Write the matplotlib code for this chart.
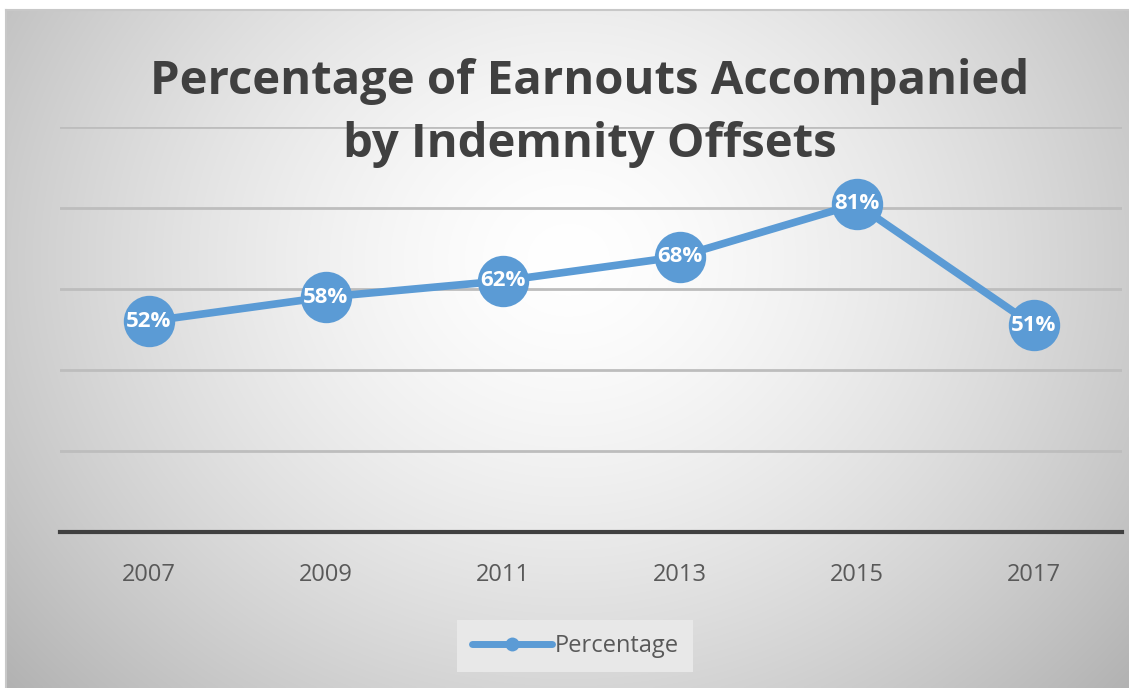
import numpy as np
import matplotlib
matplotlib.use("Agg")
import matplotlib.pyplot as plt
from matplotlib.lines import Line2D

years = ["2007", "2009", "2011", "2013", "2015", "2017"]
percentage = [52, 58, 62, 68, 81, 51]
title = "Percentage of Earnouts Accompanied\nby Indemnity Offsets"
series_name = "Percentage"

W, H = 1129, 688
fig = plt.figure(figsize=(W / 100, H / 100), dpi=100)
fig.patch.set_facecolor("white")

# radial gradient background panel
bg = fig.add_axes([6 / W, 0, 1 - 6 / W, 1 - 10 / H])
bg.set_axis_off()
yy, xx = np.mgrid[0:300, 0:500]
cx, cy = 250, 110
r = np.sqrt(((xx - cx) / 300.0) ** 2 + ((yy - cy) / 260.0) ** 2)
v = 1.0 - 0.26 * np.clip(r, 0, 1.2) ** 1.5
img = np.dstack([v, v, v])
bg.imshow(img, aspect="auto", extent=[0, 1, 0, 1], origin="upper", interpolation="bilinear")
bg.set_xlim(0, 1)
bg.set_ylim(0, 1)
bg.plot([0, 1], [1, 1], color="#c8c8c8", lw=1.5, transform=bg.transAxes, clip_on=False)
bg.plot([0, 0], [0, 1], color="#c8c8c8", lw=1.5, transform=bg.transAxes, clip_on=False)

left, right = 60 / W, 1122 / W
bottom, top = (H - 532) / H, (H - 127) / H
ax = fig.add_axes([left, bottom, right - left, top - bottom])
ax.patch.set_alpha(0)
x = np.arange(len(years))
ax.set_xlim(-0.5, len(years) - 0.5)
ax.set_ylim(0, 100)
ax.set_yticks([20, 40, 60, 80, 100])
ax.yaxis.grid(True, color="#bdbdbd", lw=2)
ax.set_axisbelow(True)
for s in ["left", "right", "top"]:
    ax.spines[s].set_visible(False)
ax.spines["bottom"].set_color("#404040")
ax.spines["bottom"].set_linewidth(3)
ax.tick_params(axis="y", left=False, labelleft=False)
ax.tick_params(axis="x", bottom=False, pad=19, labelsize=17, labelcolor="#595959")
ax.set_xticks(x)
ax.set_xticklabels(years, fontfamily="Open Sans")

color = "#5B9BD5"
ax.plot(x, percentage, color=color, lw=5.5, marker="o", markersize=37,
        markeredgewidth=0, solid_capstyle="round", zorder=3, clip_on=False)
for xi, yi in zip(x, percentage):
    ax.text(xi, yi, f"{yi}%", ha="center", va="center", color="white",
            fontsize=16, fontweight="bold", fontfamily="Open Sans", zorder=4)

fig.text(590 / W, 1 - 113 / H, title, ha="center", va="center", fontsize=34,
         fontweight="bold", color="#404040", fontfamily="Open Sans", linespacing=1.45)

handle = Line2D([], [], color=color, lw=5, marker="o", markersize=10,
                markeredgewidth=0, solid_capstyle="round")
leg = fig.legend([handle], [series_name], loc="center", bbox_to_anchor=(575 / W, 1 - 646 / H),
                 frameon=True, fancybox=False, handlelength=3.4, handletextpad=0.1,
                 prop={"family": "Open Sans", "size": 17}, borderpad=0.6)
leg.get_frame().set_facecolor("#e8e8e8")
leg.get_frame().set_edgecolor("none")
leg.get_frame().set_alpha(1)
for t in leg.get_texts():
    t.set_color("#595959")

fig.savefig("out.png", dpi=100)
